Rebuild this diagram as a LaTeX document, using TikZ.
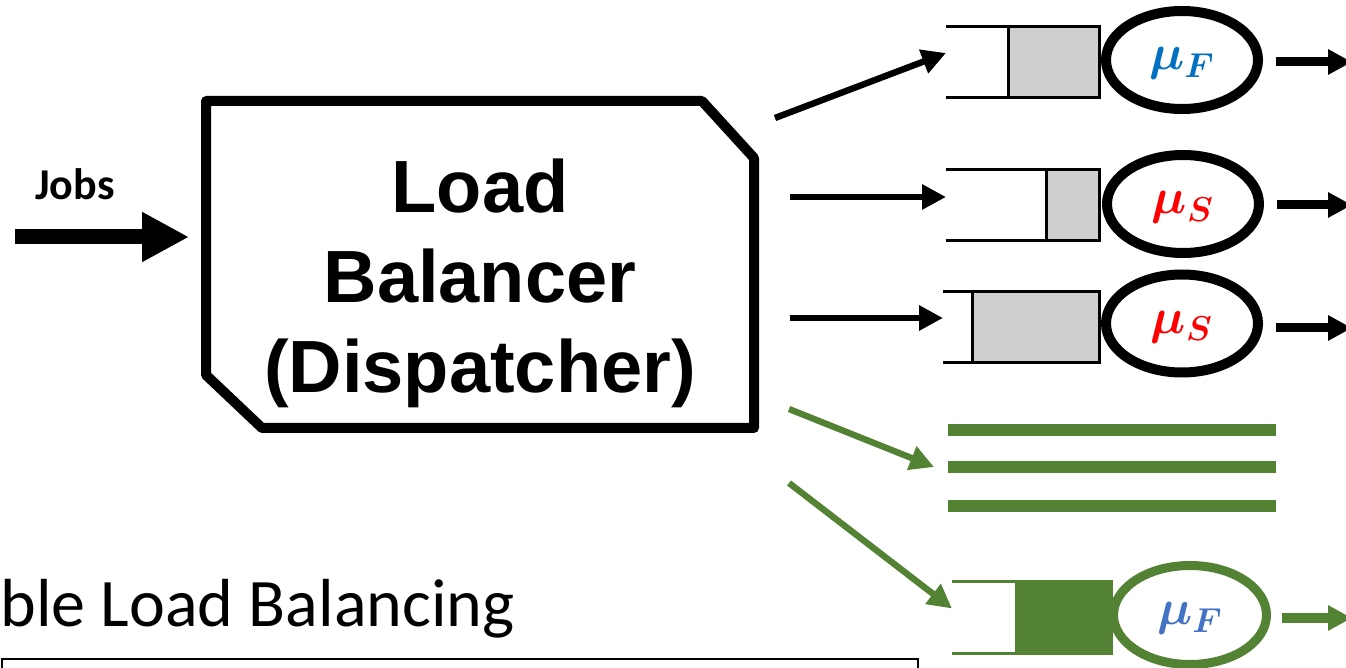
\documentclass[tikz,border=0pt]{standalone}
\usepackage{fontspec}
\usepackage{bm}
\newfontfamily\calibri{Carlito}
\newfontfamily\arialf{Liberation Sans}
\usetikzlibrary{positioning,arrows.meta,shapes.geometric}
\definecolor{qGray}  {RGB}{208,206,206}
\definecolor{qGreen} {RGB}{ 84,130, 53}
\definecolor{muFast} {RGB}{  0,112,192}
\definecolor{muSlow} {RGB}{255,  0,  0}
\definecolor{muFastG}{RGB}{ 68,114,196}

\begin{document}
\begin{tikzpicture}[x=0.5pt,y=-0.5pt]

% ---------------------------------------------------------------- styles
\tikzset{
  lbfill/.style  = {minimum width=274pt, minimum height=163.5pt,
                    inner sep=0pt, outer sep=0pt},
  lbline/.style  = {line width=5pt, line join=round},
  lbtext/.style  = {font=\arialf\bfseries\fontsize{37}{45}\selectfont, align=center},
  jobtext/.style = {font=\calibri\bfseries\fontsize{22}{26}\selectfont},
  jobarr/.style  = {line width=7.5pt, -{Triangle[length=23.5pt,width=23.5pt]}},
  buf/.style     = {inner sep=0pt, outer sep=0pt, minimum width=76.5pt,
                    minimum height=35.5pt},
  bufline/.style = {line width=1.5pt},
  jobblk/.style  = {draw, line width=1.5pt, fill=qGray, inner sep=0pt,
                    outer sep=0pt, minimum height=35.5pt, anchor=east},
  server/.style  = {ellipse, draw, line width=5pt, fill=white, inner sep=0pt,
                    minimum width=76pt, minimum height=49pt,
                    text height=14pt, text depth=4.3pt,
                    font=\fontsize{25}{25}\selectfont},
  arr/.style     = {line width=3.2pt, -{Triangle[length=12pt,width=12pt]}},
  outarr/.style  = {line width=4.5pt, -{Triangle[length=12pt,width=12pt]}},
  garr/.style    = {arr, draw=qGreen, fill=qGreen},
  gbar/.style    = {fill=qGreen, inner sep=0pt, outer sep=0pt,
                    minimum width=164pt, minimum height=6pt},
  slidetitle/.style = {font=\calibri\fontsize{34}{40}\selectfont,
                    anchor=base west, inner sep=0pt},
}

\useasboundingbox (0,0) rectangle (1346,668);
\clip (0,0) rectangle (1346,668);

% ========================================================== load balancer
\node[lbfill] (lb) at (480,264.5) {};
\draw[lbline] (lb.north west) -- ([xshift=-26pt]lb.north east)
  -- ([yshift=-28.5pt]lb.north east) -- (lb.south east)
  -- ([xshift=28pt]lb.south west) -- ([yshift=26.5pt]lb.south west) -- cycle;
\node[lbtext] (lbt) at (480,283) {Load\\Balancer\\(Dispatcher)};

% ================================================================== jobs
\coordinate (src) at (15,237);
\node[jobtext] (jobs) at (75,184) {Jobs};
\draw[jobarr] (src) -- ([xshift=-8.5pt]src -| lb.west);

% ======================================================== black queues
\node[buf] (b1) at (1022.5,62) {};
\node[jobblk, minimum width=45.5pt] (j1) at (b1.east) {};
\draw[bufline] (b1.north west) -- (b1.north east) -- (b1.south east) -- (b1.south west);
\node[server, text=muFast] (s1) at (1182,60) {$\bm{\mu_F}$};

\node[buf] (b2) at (1022.5,205.5) {};
\node[jobblk, minimum width=26.5pt] (j2) at (b2.east) {};
\draw[bufline] (b2.north west) -- (b2.north east) -- (b2.south east) -- (b2.south west);
\node[server, text=muSlow] (s2) at (1183,204) {$\bm{\mu_S}$};

\node[buf, minimum width=78pt] (b3) at (1021,327.5) {};
\node[jobblk, minimum width=63.5pt] (j3) at (b3.east) {};
\draw[bufline] (b3.north west) -- (b3.north east) -- (b3.south east) -- (b3.south west);
\node[server, text=muSlow] (s3) at (1182,323.5) {$\bm{\mu_S}$};

% ======================================================== green servers
\node[gbar] (g1) at (1112,430) {};
\node[gbar] (g2) at (1112,467) {};
\node[gbar] (g3) at (1112,506) {};

\node[buf, minimum width=79.5pt] (bg) at (1031.5,617.5) {};
\node[jobblk, draw=qGreen, fill=qGreen, minimum width=47.5pt] (jg) at (bg.east) {};
\draw[bufline, draw=qGreen] (bg.north west) -- (bg.north east) -- (bg.south east) -- (bg.south west);
\node[server, draw=qGreen, line width=4.5pt, minimum width=76.5pt,
      minimum height=49.5pt, text=muFastG] (sg) at (1190,615) {$\bm{\mu_F}$};

% ------------------------------------------------- dispatching arrows
\coordinate (o1) at (775,118);
\coordinate (o2) at (790,197);
\coordinate (o3) at (790,318);
\coordinate (o4) at (789,409);
\coordinate (o5) at (789,483);
\draw[arr]  (o1) -- ([yshift=4.5pt]b1.west);
\draw[arr]  (o2) -- ([yshift=4.25pt]b2.west);
\draw[arr]  (o3) -- ([yshift=4.75pt]b3.west);
\draw[garr] (o4) -- ([xshift=-7pt]g2.west);
\draw[garr] (o5) -- ([yshift=4.5pt]bg.west);

% ---------------------------------------------------- departures
\coordinate (e1) at (1352,62);
\coordinate (e2) at (1352,205);
\coordinate (e3) at (1352,328);
\coordinate (e4) at (1352,618);
\draw[outarr] ([xshift=6.5pt]s1.east |- e1) -- (e1);
\draw[outarr] ([xshift=6.5pt]s2.east |- e2) -- (e2);
\draw[outarr] ([xshift=6.5pt]s3.east |- e3) -- (e3);
\draw[outarr, draw=qGreen, fill=qGreen] ([xshift=5.5pt]sg.east |- e4) -- (e4);

% ------------------------------------------------------- slide text
\node[slidetitle] (ttl) at (0,626) {ble Load Balancing};
\draw[line width=1pt] (2,659) rectangle (918,700);

\end{tikzpicture}
\end{document}
